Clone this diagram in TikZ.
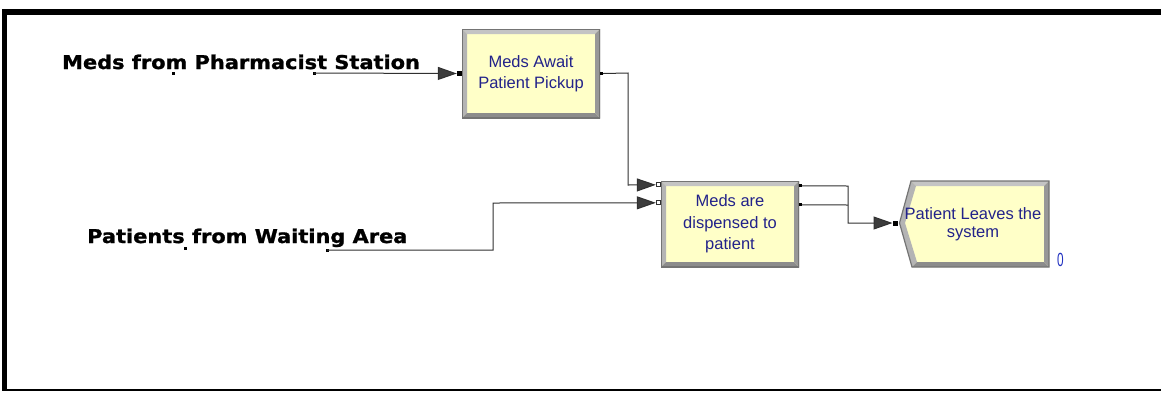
\documentclass[tikz,border=0pt]{standalone}
\usepackage{fontspec}
\setmainfont{Liberation Sans}
\newfontfamily\labfont[FakeBold=1.2]{DejaVu Sans}
\usetikzlibrary{arrows.meta,calc}
\definecolor{boxyellow}{HTML}{FFFFC8}
\definecolor{boxtext}{HTML}{22228A}
\definecolor{bevtop}{HTML}{C4C4C4}
\definecolor{bevleft}{HTML}{B4B4B4}
\definecolor{bevright}{HTML}{989898}
\definecolor{bevbot}{HTML}{8C8C8C}
\definecolor{bevline}{HTML}{747474}
\definecolor{arrowgrey}{HTML}{3C3C3C}
\definecolor{linegrey}{HTML}{303030}
\definecolor{cntblue}{HTML}{2030C0}
\tikzset{
  arena/.style={rectangle, fill=boxyellow, text=boxtext, align=center, inner sep=0pt,
    font=\fontsize{16.5}{21.5}\selectfont,
    path picture={
      \fill[bevtop] (path picture bounding box.north west) -- (path picture bounding box.north east)
        -- ([shift={(-5pt,-5pt)}]path picture bounding box.north east) -- ([shift={(5pt,-5pt)}]path picture bounding box.north west) -- cycle;
      \fill[bevleft] (path picture bounding box.north west) -- ([shift={(5pt,-5pt)}]path picture bounding box.north west)
        -- ([shift={(5pt,5pt)}]path picture bounding box.south west) -- (path picture bounding box.south west) -- cycle;
      \fill[bevbot] (path picture bounding box.south west) -- (path picture bounding box.south east)
        -- ([shift={(-5pt,5pt)}]path picture bounding box.south east) -- ([shift={(5pt,5pt)}]path picture bounding box.south west) -- cycle;
      \fill[bevright] (path picture bounding box.north east) -- (path picture bounding box.south east)
        -- ([shift={(-5pt,5pt)}]path picture bounding box.south east) -- ([shift={(-5pt,-5pt)}]path picture bounding box.north east) -- cycle;
      \draw[bevline, line width=1.2pt] (path picture bounding box.north west) rectangle (path picture bounding box.south east);
    }},
  flow/.style={draw=linegrey, line width=1pt},
  flowarrow/.style={flow, -{Triangle[length=19pt,width=13pt,fill=arrowgrey]}},
  portin/.style={fill=black},
  portopen/.style={fill=white, draw=linegrey, line width=0.8pt},
  portout/.style={fill=black},
  lab/.style={font=\labfont\bfseries\fontsize{19}{22}\selectfont, inner sep=0pt}
}
\begin{document}
\begin{tikzpicture}[x=1pt,y=-1pt]
\useasboundingbox (0,0) rectangle (1161,392);
% frame
\fill[black] (2,9) rectangle (1161,15);
\fill[black] (2,9) rectangle (7,391);
\fill[black] (2,389) rectangle (1161,391);

% labels
\node[lab, anchor=base west] (lab1) at (62,69) {\scalebox{1.1}[1]{Meds from Pharmacist Station}};
\node[lab, anchor=base west] (lab2) at (87,243) {\scalebox{1.1}[1]{Patients from Waiting Area}};
\fill[black] (171.5,72) rectangle (174.5,75);
\fill[black] (183.5,246.5) rectangle (186.5,249.5);

% boxes
\node[arena, minimum width=138pt, minimum height=89pt] (b1) at (531,73.5) {Meds Await\\Patient Pickup};
\node[arena, minimum width=138pt, minimum height=86pt] (b2) at (730,224) {Meds are\\dispensed to\\patient};

% dispose shape
\coordinate (d3tip) at (899.5,223);
\fill[boxyellow] (911,181) -- (1049,181) -- (1049,267) -- (912,267) -- (d3tip) -- cycle;
\fill[bevtop] (911,181) -- (1049,181) -- (1044,186) -- (916,186) -- cycle;
\fill[bevleft] (911,181) -- (916,186) -- (905,223) -- (d3tip) -- cycle;
\fill[bevleft] (d3tip) -- (905,223) -- (917,262) -- (912,267) -- cycle;
\fill[bevbot] (912,267) -- (1049,267) -- (1044,262) -- (917,262) -- cycle;
\fill[bevright] (1049,181) -- (1049,267) -- (1044,262) -- (1044,186) -- cycle;
\draw[bevline, line width=1.2pt] (911,181) -- (1049,181) -- (1049,267) -- (912,267) -- (d3tip) -- cycle;
\node[text=boxtext, align=center, inner sep=0pt, font=\fontsize{16.5}{18.5}\selectfont] (d3) at (973,224) {Patient Leaves the\\system};
\node[text=cntblue, inner sep=0pt, font=\fontsize{19}{19}\selectfont] (cnt) at (1060.5,260) {\scalebox{0.62}[1]{0}};

% sources
\coordinate (src1) at (314,73);
\coordinate (src2) at (327,250);
\fill[black] ($(src1)+(-1.5,-1.5)$) rectangle ($(src1)+(1.5,1.5)$);
\fill[black] ($(src2)+(-1.5,-1.5)$) rectangle ($(src2)+(1.5,1.5)$);

% ports
\coordinate (b1in) at ([xshift=-5pt]b1.west);
\coordinate (b1out) at ([xshift=3pt]b1.east);
\coordinate (b2inA) at ([shift={(-5pt,-4pt)}]b2.north west);
\coordinate (b2inB) at ([shift={(-5pt,-22pt)}]b2.north west);
\coordinate (b2outA) at ([shift={(3pt,-5pt)}]b2.north east);
\coordinate (b2outB) at ([shift={(3pt,-24pt)}]b2.north east);
\coordinate (d3in) at ([xshift=-7pt]d3tip);

% connectors
\draw[flowarrow] (src1) -- (b1in);
\draw[flowarrow] (b1out) -- (628,73) -- (628,185) -- (b2inA);
\draw[flowarrow] (src2) -- (493,250) -- (493,203) -- (b2inB);
\draw[flowarrow] (b2outA) -- (848,186) -- (848,223) -- (d3in);
\draw[flow] (b2outB) -- (848,205);

% port squares
\fill[portin] ($(b1in)+(0,-2.5)$) rectangle ($(b1in)+(5,2.5)$);
\fill[portout] ($(b1out)+(-3,-1.5)$) rectangle ($(b1out)+(0,1.5)$);
\filldraw[portopen] ($(b2inA)+(0.5,-2)$) rectangle ($(b2inA)+(4.5,2)$);
\filldraw[portopen] ($(b2inB)+(0.5,-2)$) rectangle ($(b2inB)+(4.5,2)$);
\fill[portout] ($(b2outA)+(-3,-1.5)$) rectangle ($(b2outA)+(0,1.5)$);
\fill[portout] ($(b2outB)+(-3,-1.5)$) rectangle ($(b2outB)+(0,1.5)$);
\fill[portin] ($(d3in)+(0,-2.5)$) rectangle ($(d3in)+(5,2.5)$);
\end{tikzpicture}
\end{document}
